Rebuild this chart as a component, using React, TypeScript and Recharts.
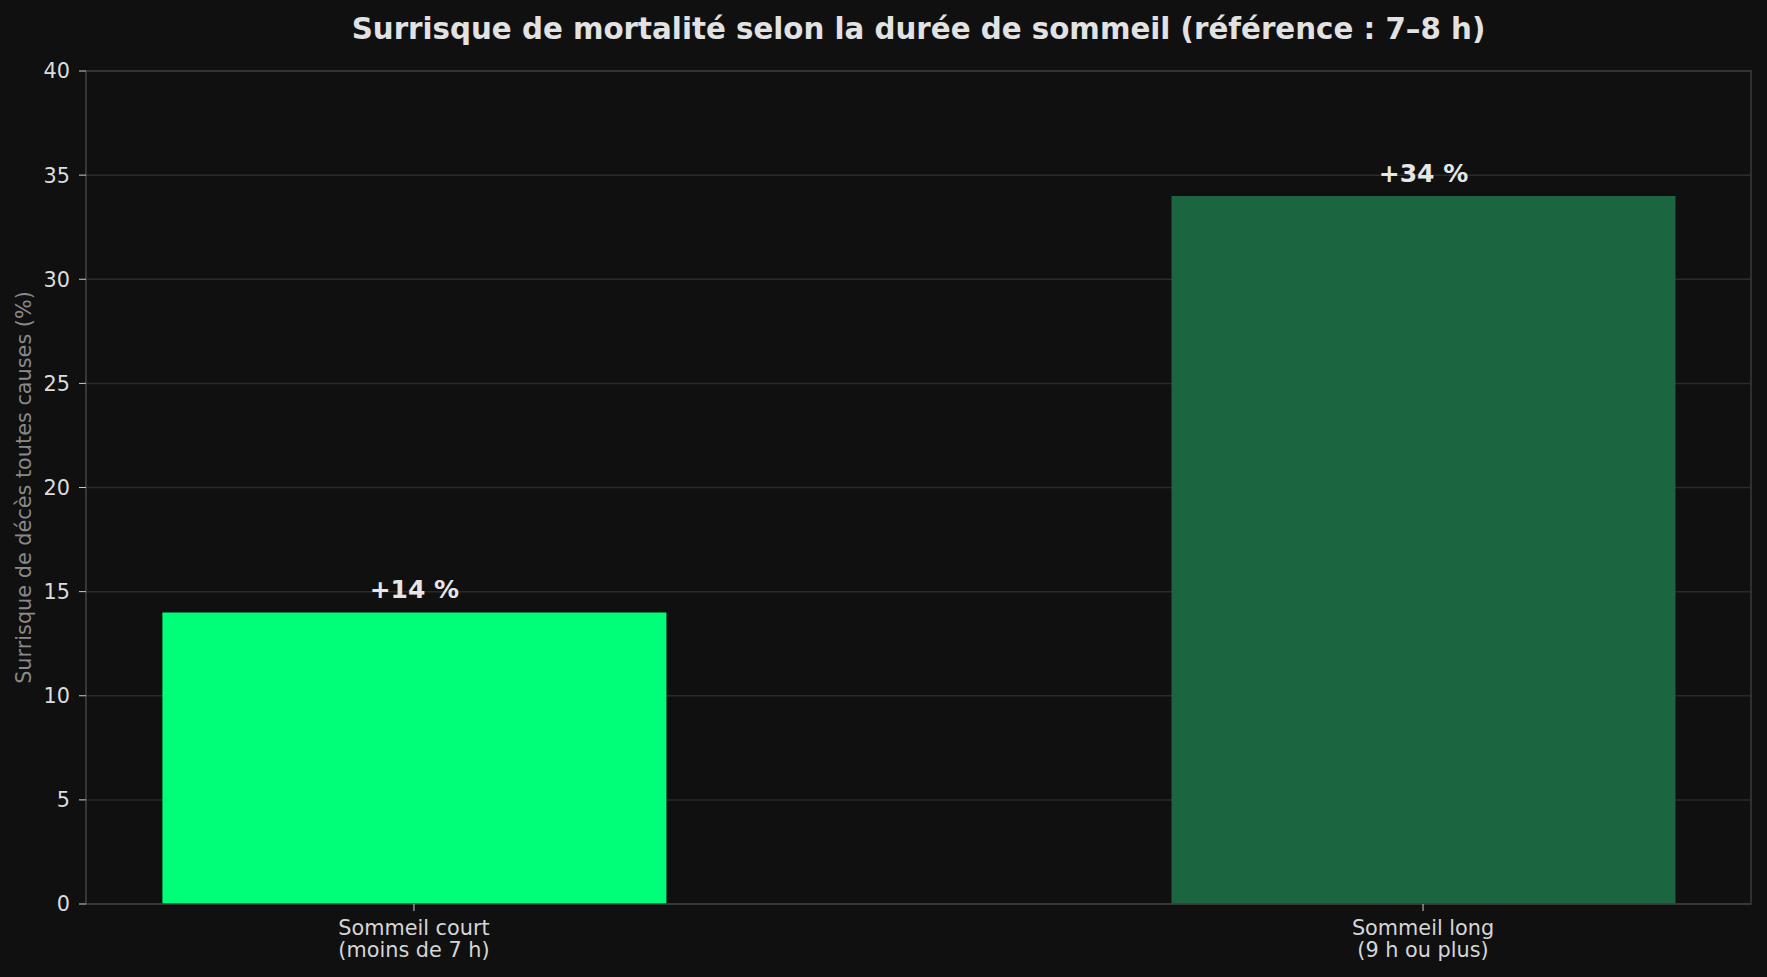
import React from "react";
import { BarChart, Bar, XAxis, YAxis, CartesianGrid, Cell, LabelList, ReferenceArea } from "recharts";

// categories (numeric positions on the x axis) and their labels
const positions = [0, 1];
const labelsTop = ["Sommeil court", "Sommeil long"];
const labelsBottom = ["(moins de 7 h)", "(9 h ou plus)"];
const excess = [14, 34]; // surrisque de mortalité, %
const barColors = ["#00ff78", "#1b6640"];
const yTicks = [0, 5, 10, 15, 20, 25, 30, 35, 40];

const FONT = '"DejaVu Sans", sans-serif';
const BG = "#101010";

const data = positions.map((x, i) => ({ x, value: excess[i] }));

function XTick(props: any) {
  const { x, y, payload } = props;
  const i = positions.indexOf(payload.value);
  return (
    <text x={x} y={y} textAnchor="middle" fill="#d6d6d6" fontFamily={FONT} fontSize={20.8}>
      <tspan x={x} dy={20}>{labelsTop[i]}</tspan>
      <tspan x={x} dy={22}>{labelsBottom[i]}</tspan>
    </text>
  );
}

function ValueLabel(props: any) {
  const { x, y, width, value } = props;
  return (
    <text x={x + width / 2} y={y - 14} textAnchor="middle" fill="#e6e6e6" fontFamily={FONT} fontSize={25} fontWeight="bold">
      {`+${value} %`}
    </text>
  );
}

function YLabel(props: any) {
  const { viewBox } = props;
  const cy = viewBox.y + viewBox.height / 2;
  const cx = 24;
  return (
    <text x={cx} y={cy} transform={`rotate(-90 ${cx} ${cy})`} textAnchor="middle" dominantBaseline="central"
      fill="#8a8a8a" fontFamily={FONT} fontSize={20.8}>
      Surrisque de décès toutes causes (%)
    </text>
  );
}

export default function App() {
  return (
    <div style={{ position: "absolute", left: 0, top: 0, width: 1767, height: 977, background: BG, fontFamily: FONT }}>
      <div style={{ position: "absolute", left: 86, width: 1665, top: 12.5, height: 32, lineHeight: "32px", textAlign: "center",
        color: "#e2e2e2", fontSize: 29.3, fontWeight: "bold", whiteSpace: "nowrap" }}>
        Surrisque de mortalité selon la durée de sommeil (référence : 7–8 h)
      </div>
      <BarChart width={1767} height={977} data={data} margin={{ top: 71, right: 16, bottom: 0, left: 0 }}>
        <CartesianGrid vertical={false} stroke="#2a2a2a" strokeWidth={1.5} />
        <XAxis dataKey="x" type="number" domain={[-0.325, 1.325]} ticks={positions} height={73}
          tick={<XTick />} tickSize={7} tickMargin={4}
          axisLine={{ stroke: "#3a3a3a", strokeWidth: 1.5 }} tickLine={{ stroke: "#cccccc" }} />
        <YAxis domain={[0, 40]} ticks={yTicks} width={86} tickSize={7} tickMargin={9}
          tick={{ fill: "#dcdcdc", fontSize: 20.8, fontFamily: FONT }}
          axisLine={{ stroke: "#3a3a3a", strokeWidth: 1.5 }} tickLine={{ stroke: "#cccccc" }}
          label={{ content: (p: any) => <YLabel {...p} /> }} />
        <ReferenceArea x1={-0.325} x2={1.325} y1={0} y2={40} fill="none" stroke="#3a3a3a" strokeWidth={1.5} ifOverflow="visible" />
        <Bar dataKey="value" barSize={504} isAnimationActive={false}>
          {data.map((d, i) => (
            <Cell key={i} fill={barColors[i]} />
          ))}
          <LabelList dataKey="value" content={<ValueLabel />} />
        </Bar>
      </BarChart>
    </div>
  );
}
